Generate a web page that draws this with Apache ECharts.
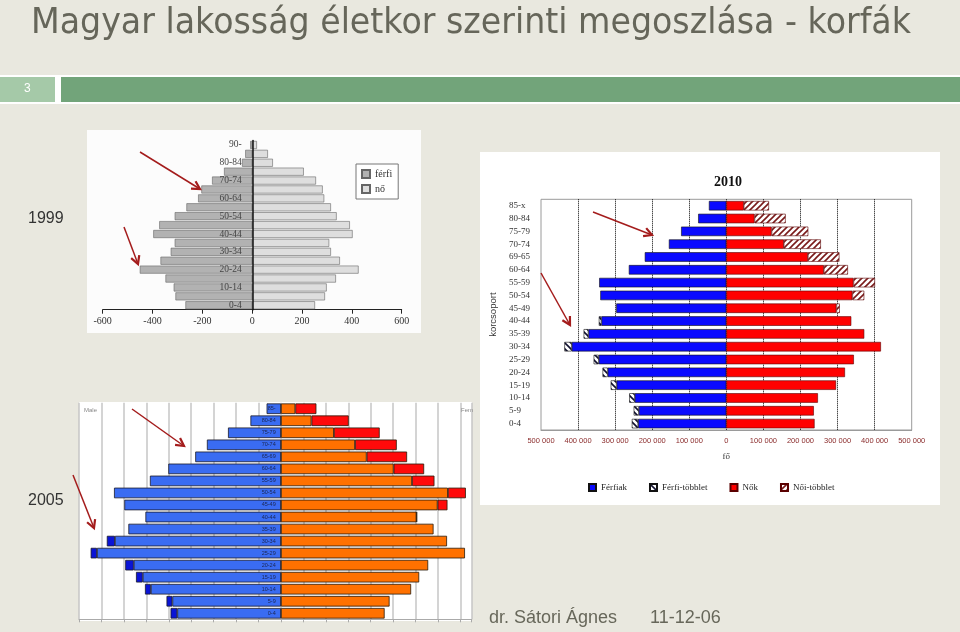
<!DOCTYPE html>
<html><head><meta charset="utf-8">
<script src="https://cdn.jsdelivr.net/npm/echarts@6/dist/echarts.min.js"></script>
<style>html,body{margin:0;padding:0;background:#e9e8df;}#c{width:960px;height:632px;}</style>
</head><body><div id="c"></div>
<script>
// ---- 1999 (ezer fő) ----
const cats1999 = ['0-4','5-9','10-14','15-19','20-24','25-29','30-34','35-39','40-44','45-49','50-54','55-59','60-64','65-69','70-74','75-79','80-84','85-89','90-'];
const male1999 = [268,308,315,348,451,368,327,311,397,373,311,264,217,204,161,113,41,28,8];
const female1999 = [252,292,299,336,427,352,316,309,403,392,339,316,289,283,256,207,83,63,19];
const ticks1999 = [-600,-400,-200,0,200,400,600];

// ---- 2010 (fő) ----
const cats2010 = ['0-4','5-9','10-14','15-19','20-24','25-29','30-34','35-39','40-44','45-49','50-54','55-59','60-64','69-65','70-74','75-79','80-84','85-x'];
const male2010 = [255000,250000,262000,312000,334000,358000,437000,385000,344000,297000,340000,343000,263000,220000,155000,122000,76000,47000];
const female2010 = [238000,236000,247000,296000,320000,344000,417000,372000,337000,306000,372000,401000,328000,305000,255000,221000,160000,115000];

// ---- 2005 (fő) ----
const cats2005 = ['0-4','5-9','10-14','15-19','20-24','25-29','30-34','35-39','40-44','45-49','50-54','55-59','60-64','65-69','70-74','75-79','80-84','85-'];
const male2005 = [246000,255000,303000,323000,347000,424000,388000,340000,302000,349000,372000,292000,251000,191000,165000,118000,68000,32000];
const female2005 = [231000,242000,290000,308000,328000,410000,370000,340000,303000,371000,412000,342000,319000,281000,258000,220000,151000,79000];

const legend2010 = ['Férfiak','Férfi-többlet','Nők','Női-többlet'];
const titleText = 'Magyar lakosság életkor szerinti megoszlása - korfák';

function hatch(bg, fg, dir) {
  const s = 6;
  const c = document.createElement('canvas'); c.width = s; c.height = s;
  const g = c.getContext('2d');
  g.fillStyle = bg; g.fillRect(0,0,s,s);
  g.strokeStyle = fg; g.lineWidth = 1.6; g.beginPath();
  if (dir > 0) { // '/'
    g.moveTo(-1,s+1); g.lineTo(s+1,-1);
    g.moveTo(-1,1); g.lineTo(1,-1);
    g.moveTo(s-1,s+1); g.lineTo(s+1,s-1);
  } else { // '\'
    g.moveTo(-1,-1); g.lineTo(s+1,s+1);
    g.moveTo(-1,s-1); g.lineTo(1,s+1);
    g.moveTo(s-1,-1); g.lineTo(s+1,1);
  }
  g.stroke();
  return { image: c, repeat: 'repeat' };
}

const minArr = (a,b) => a.map((v,i)=>Math.min(v,b[i]));
const surplus = (a,b) => a.map((v,i)=> v>b[i] ? v-b[i] : null);
const neg = a => a.map(v => v==null ? null : -v);

const serif = "'Liberation Serif','Times New Roman',serif";
const sans = "'Liberation Sans',Arial,sans-serif";
const titleFont = "35px 'DejaVu Sans'";

// title: condensed look by horizontal scaling
const mctx = document.createElement('canvas').getContext('2d');
mctx.font = titleFont;
const titleScale = 880 / mctx.measureText(titleText).width;

const arrows = [[140,152,200,189],[124,227,138,264],[593,212,652,235],[541,273,570,325],[132,409,184,446],[73,475,94,528]];
const arrowEls = [];
arrows.forEach(([x1,y1,x2,y2])=>{
  const a = Math.atan2(y2-y1,x2-x1), L = 9, sp = 0.5;
  arrowEls.push({type:'line', z:100, shape:{x1,y1,x2,y2}, style:{stroke:'#a41c1c', lineWidth:1.5}});
  arrowEls.push({type:'polyline', z:100, shape:{points:[[x2-L*Math.cos(a-sp), y2-L*Math.sin(a-sp)],[x2,y2],[x2-L*Math.cos(a+sp), y2-L*Math.sin(a+sp)]]}, style:{stroke:'#a41c1c', lineWidth:2.2, fill:null}});
});

const chart = echarts.init(document.getElementById('c'));
const option = {
  animation: false,
  backgroundColor: '#e9e8df',
  graphic: [
    {type:'rect', z:-10, shape:{x:0,y:75,width:960,height:29}, style:{fill:'#ffffff'}},
    {type:'rect', z:-9, shape:{x:0,y:77,width:55,height:25}, style:{fill:'#a5c9a8'}},
    {type:'rect', z:-9, shape:{x:61,y:77,width:899,height:25}, style:{fill:'#72a47a'}},
    {type:'text', z:5, left:24, top:83, style:{text:'3', fill:'#ffffff', font:'12px '+sans}},
    {type:'text', z:5, x:31, y:24, scaleX:titleScale, style:{x:0, y:0, text:titleText, fill:'#66665a', font:titleFont, verticalAlign:'middle'}},
    {type:'text', z:5, left:28, top:211, style:{text:'1999', fill:'#333333', font:'16px '+sans}},
    {type:'text', z:5, left:28, top:493, style:{text:'2005', fill:'#333333', font:'16px '+sans}},
    {type:'text', z:5, left:489, top:609, style:{text:'dr. Sátori Ágnes', fill:'#67675a', font:'18px '+sans}},
    {type:'text', z:5, left:650, top:609, style:{text:'11-12-06', fill:'#67675a', font:'18px '+sans}},
    {type:'rect', z:-8, shape:{x:87,y:130,width:334,height:203}, style:{fill:'#fcfcfc'}},
    {type:'rect', z:-8, shape:{x:480,y:152,width:460,height:353}, style:{fill:'#ffffff'}},
    {type:'rect', z:-8, shape:{x:79,y:402,width:393,height:219}, style:{fill:'#ffffff'}},
    {type:'text', z:5, left:714, top:175, style:{text:'2010', fill:'#111111', font:'bold 14px '+serif}},
    {type:'text', z:5, left:84, top:407, style:{text:'Male', fill:'#888888', font:'6px '+sans}},
    {type:'text', z:5, left:461, top:407, style:{text:'Fem', fill:'#888888', font:'6px '+sans}},
    ...arrowEls
  ],
  legend: [
    {data:['férfi','nő'], orient:'vertical', left:356, top:164, padding:[5,6,5,5], itemGap:5,
     itemWidth:8, itemHeight:8, icon:'rect', borderColor:'#777', borderWidth:1, backgroundColor:'#ffffff',
     textStyle:{fontFamily:serif, fontSize:10, color:'#333'}},
    {data:legend2010, left:583, top:478, itemGap:22, itemWidth:7, itemHeight:7, icon:'rect',
     textStyle:{fontFamily:serif, fontSize:9, color:'#222'}}
  ],
  grid: [
    {left:102.7, top:140.5, width:299, height:169.2},
    {left:541, top:199.3, width:370.7, height:230.7, show:true, borderColor:'#9a9a9a', borderWidth:1, backgroundColor:'transparent'},
    {left:79, top:402.7, width:392.7, height:216.6}
  ],
  xAxis: [
    {gridIndex:0, type:'value', min:ticks1999[0], max:ticks1999[ticks1999.length-1], interval:200,
     axisLine:{show:true, onZero:false, lineStyle:{color:'#222'}}, axisTick:{show:true, length:4, lineStyle:{color:'#222'}},
     axisLabel:{fontFamily:serif, fontSize:10, color:'#333', margin:7}, splitLine:{show:false}},
    {gridIndex:1, type:'value', min:-500000, max:500000, interval:100000,
     axisLine:{show:true, onZero:false, lineStyle:{color:'#9a9a9a'}}, axisTick:{show:false},
     axisLabel:{fontFamily:sans, fontSize:7.5, color:'#8a2b2b', margin:7,
       formatter: v => { const a = Math.abs(v); return a===0 ? '0' : String(a).replace(/\B(?=(\d{3})+(?!\d))/g,' '); }},
     splitLine:{show:true, showMinLine:false, showMaxLine:false, lineStyle:{color:'#000', type:'dotted', width:1}},
     name:'fő', nameLocation:'middle', nameGap:22, nameTextStyle:{fontFamily:serif, fontSize:9, color:'#333'}},
    {gridIndex:2, type:'value', min:-450000, max:425000, interval:50000,
     axisLine:{show:true, onZero:false, lineStyle:{color:'#aaaaaa'}}, axisTick:{show:true, length:3, lineStyle:{color:'#aaaaaa'}},
     axisLabel:{show:false}, splitLine:{show:true, lineStyle:{color:'#c6c6c6', width:1.5}}}
  ],
  yAxis: [
    {gridIndex:0, type:'category', data:cats1999, z:10, offset:-150,
     axisLine:{show:true, onZero:false, lineStyle:{color:'#111', width:1.5}}, axisTick:{show:false},
     axisLabel:{interval:1, fontFamily:serif, fontSize:9.5, color:'#444', margin:11}},
    {gridIndex:1, type:'category', data:cats2010,
     axisLine:{show:false}, axisTick:{show:false},
     axisLabel:{interval:0, align:'left', margin:32, fontFamily:serif, fontSize:9, color:'#333'},
     name:'korcsoport', nameLocation:'middle', nameGap:43, nameRotate:90,
     nameTextStyle:{fontFamily:sans, fontSize:9.5, color:'#333'}},
    {gridIndex:2, type:'category', data:cats2005, z:10, offset:-201.7,
     axisLine:{show:false, onZero:false}, axisTick:{show:false},
     axisLabel:{interval:0, fontFamily:sans, fontSize:5.5, color:'#1c2650', margin:5}}
  ],
  series: [
    {name:'férfi', type:'bar', xAxisIndex:0, yAxisIndex:0, data:neg(male1999), barCategoryGap:'10%', barGap:'-100%',
     itemStyle:{color:'#b2b2b2', borderColor:'#666', borderWidth:0.6}},
    {name:'nő', type:'bar', xAxisIndex:0, yAxisIndex:0, data:female1999, barCategoryGap:'10%', barGap:'-100%',
     itemStyle:{color:'#dedede', borderColor:'#666', borderWidth:0.6}},

    {name:'Férfiak', type:'bar', stack:'m10', xAxisIndex:1, yAxisIndex:1, data:neg(minArr(male2010,female2010)), barCategoryGap:'26%', barGap:'-100%',
     itemStyle:{color:'#0a0aff', borderColor:'#111', borderWidth:0.6}},
    {name:'Férfi-többlet', type:'bar', stack:'m10', xAxisIndex:1, yAxisIndex:1, data:neg(surplus(male2010,female2010)), barCategoryGap:'26%', barGap:'-100%',
     itemStyle:{color:hatch('#ffffff','#101030',-1), borderColor:'#111', borderWidth:0.6}},
    {name:'Nők', type:'bar', stack:'f10', xAxisIndex:1, yAxisIndex:1, data:minArr(male2010,female2010), barCategoryGap:'26%', barGap:'-100%',
     itemStyle:{color:'#ff0000', borderColor:'#5a0000', borderWidth:0.6}},
    {name:'Női-többlet', type:'bar', stack:'f10', xAxisIndex:1, yAxisIndex:1, data:surplus(female2010,male2010), barCategoryGap:'26%', barGap:'-100%',
     itemStyle:{color:hatch('#ffffff','#7a1a1a',1), borderColor:'#5a0000', borderWidth:0.6}},

    {name:'Férfi 2005', type:'bar', stack:'m05', xAxisIndex:2, yAxisIndex:2, data:neg(minArr(male2005,female2005)), barCategoryGap:'12%', barGap:'-100%',
     itemStyle:{color:'#3a6cf2', borderColor:'#1a1a2a', borderWidth:0.8}},
    {name:'Férfi-többlet 2005', type:'bar', stack:'m05', xAxisIndex:2, yAxisIndex:2, data:neg(surplus(male2005,female2005)), barCategoryGap:'12%', barGap:'-100%',
     itemStyle:{color:'#0a14d6', borderColor:'#1a1a2a', borderWidth:0.8}},
    {name:'Nő 2005', type:'bar', stack:'f05', xAxisIndex:2, yAxisIndex:2, data:minArr(male2005,female2005), barCategoryGap:'12%', barGap:'-100%',
     itemStyle:{color:'#ff7100', borderColor:'#2a1a0a', borderWidth:0.8}},
    {name:'Női-többlet 2005', type:'bar', stack:'f05', xAxisIndex:2, yAxisIndex:2, data:surplus(female2005,male2005), barCategoryGap:'12%', barGap:'-100%',
     itemStyle:{color:'#ff0a0a', borderColor:'#2a1a0a', borderWidth:0.8}}
  ]
};
chart.setOption(option);
</script></body></html>
